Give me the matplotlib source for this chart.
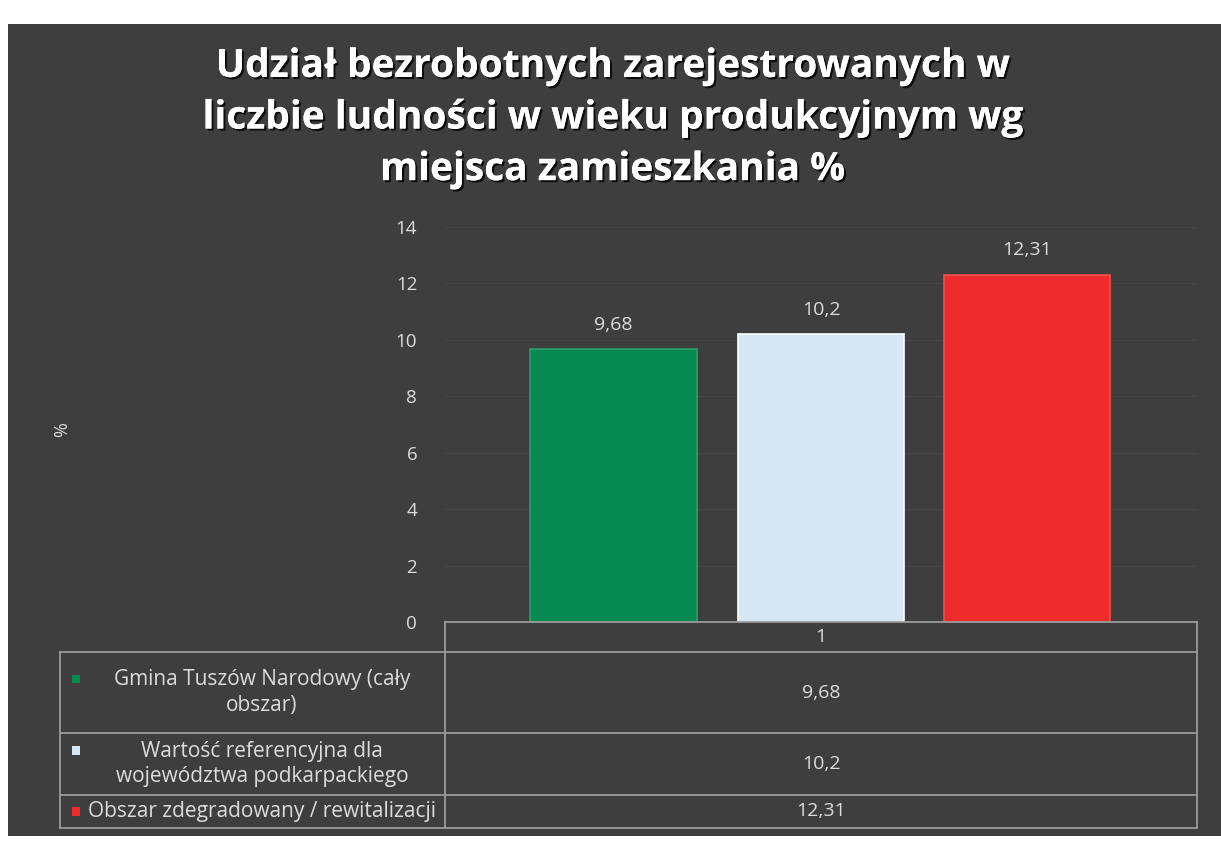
import matplotlib
matplotlib.use("Agg")
import matplotlib.pyplot as plt
import matplotlib.patheffects as pe

# ---- data ----
title = "Udział bezrobotnych zarejestrowanych w\nliczbie ludności w wieku produkcyjnym wg\nmiejsca zamieszkania %"
series_names = [
    "Gmina Tuszów Narodowy (cały\nobszar)",
    "Wartość referencyjna dla\nwojewództwa podkarpackiego",
    "Obszar zdegradowany / rewitalizacji",
]
values = [9.68, 10.2, 12.31]
value_labels = ["9,68", "10,2", "12,31"]
category_label = "1"
y_ticks = [0, 2, 4, 6, 8, 10, 12, 14]
colors = ["#078a52", "#d6e6f3", "#ee2c2c"]
edge_colors = ["#2aa06a", "#ffffff", "#f25050"]

W, H = 1221, 842
plt.rcParams['font.family'] = ['Open Sans', 'DejaVu Sans']
fig = plt.figure(figsize=(W / 100, H / 100), dpi=100)
fig.patch.set_facecolor('white')

# dark panel
bg = fig.add_axes([8 / W, 1 - 836 / H, 1 - 8 / W, (836 - 24) / H])
bg.set_facecolor('#3e3e3e')
bg.set_xticks([]); bg.set_yticks([])
for s in bg.spines.values():
    s.set_visible(False)
bg.set_zorder(-5)

txt_col = '#dcdcdc'

# title
fig.text(612 / W, 1 - 118 / H, title, ha='center', va='center', multialignment='center',
         fontsize=28, fontweight='bold', color='white', linespacing=1.42,
         path_effects=[pe.withSimplePatchShadow(offset=(1.5, -1.5), shadow_rgbFace='black', alpha=0.8),
                       pe.Normal()])

# main axes
ax = fig.add_axes([445 / W, 1 - 622 / H, 752 / W, 395 / H])
ax.set_facecolor('none')
ax.set_xlim(-0.5, 0.5)
ax.set_ylim(0, 14)
for s in ax.spines.values():
    s.set_visible(False)
ax.set_yticks(y_ticks)
ax.set_yticklabels([str(t) for t in y_ticks], color=txt_col, fontsize=13.5)
ax.tick_params(axis='y', length=0, pad=20)
ax.set_xticks([])
ax.grid(axis='y', color='#464646', lw=0.8)
ax.set_axisbelow(True)

offsets = [-0.276, 0.0, 0.274]
width = 0.221
for off, v, c, ec, lab in zip(offsets, values, colors, edge_colors, value_labels):
    ax.bar(off, v, width=width, color=c, edgecolor=ec, linewidth=1.2, zorder=3)
    ax.annotate(lab, (off, v), xytext=(0, 11), textcoords='offset points',
                ha='center', va='bottom', color=txt_col, fontsize=14)

fig.text(62 / W, 1 - 430 / H, '%', rotation=90, ha='center', va='center',
         color=txt_col, fontsize=13)

# data table
tab = fig.add_axes([0, 0, 1, 1])
tab.set_xlim(0, W)
tab.set_ylim(H, 0)
tab.axis('off')
tab.patch.set_alpha(0)
lc = '#9a9a9a'
row_edges = [652, 733, 795, 828]
tab.plot([445, 1197], [622, 622], color=lc, lw=1.3)
for y in row_edges:
    tab.plot([60, 1197], [y, y], color=lc, lw=1.3)
tab.plot([445, 445], [622, 828], color=lc, lw=1.3)
tab.plot([1197, 1197], [622, 828], color=lc, lw=1.3)
tab.plot([60, 60], [652, 828], color=lc, lw=1.3)

fs_tab = 14
fs_name = 15
ls_tab = 1.3
tab.text(821, 637, category_label, ha='center', va='center', color=txt_col, fontsize=fs_tab)
row_centers = [(row_edges[i] + row_edges[i + 1]) / 2 for i in range(3)]
for yc, name, lab, c in zip(row_centers, series_names, value_labels, colors):
    tab.text(821, yc, lab, ha='center', va='center', color=txt_col, fontsize=fs_tab)
    nlines = name.count('\n') + 1
    tab.text(262, yc, name, ha='center', va='center', multialignment='center',
             color=txt_col, fontsize=fs_name, linespacing=ls_tab)
    ym = yc - (fs_name * ls_tab * 1.389 / 2) * (nlines - 1)
    tab.scatter([76], [ym], marker='s', s=40, color=c, edgecolors='none')

fig.savefig('out.png', dpi=100, facecolor=fig.get_facecolor())
